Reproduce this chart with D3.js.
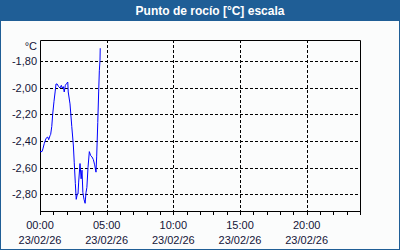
<!DOCTYPE html>
<html><head><meta charset="utf-8">
<script src="https://cdn.jsdelivr.net/npm/d3@7"></script>
<style>html,body{margin:0;padding:0;background:#fff;overflow:hidden}</style>
</head><body>
<svg id="c" width="400" height="250"></svg>
<script>
const title = "Punto de rocío [°C] escala";
const unitLabel = "°C";
const times = ["00:00","00:09","00:13","00:19","00:27","00:35","00:39","00:45","00:48","00:53","00:57","01:03","01:08","01:12","01:17","01:24","01:30","01:36","01:40","01:45","01:49","01:54","02:00","02:05","02:07","02:15","02:23","02:30","02:34","02:39","02:43","02:48","02:51","02:54","03:00","03:05","03:09","03:13","03:18","03:23","03:27","03:31","03:36","03:42","03:48","03:54","04:00","04:06","04:12","04:15","04:20","04:24","04:27","04:30","04:31"];
const values = [-2.48,-2.48,-2.46,-2.42,-2.38,-2.37,-2.39,-2.36,-2.35,-2.29,-2.20,-2.10,-2.03,-1.97,-1.97,-1.99,-2.00,-1.98,-2.00,-1.99,-2.03,-1.98,-1.965,-1.955,-2.03,-2.12,-2.29,-2.43,-2.56,-2.72,-2.84,-2.80,-2.80,-2.71,-2.57,-2.685,-2.62,-2.79,-2.84,-2.87,-2.79,-2.75,-2.60,-2.48,-2.51,-2.52,-2.54,-2.58,-2.635,-2.52,-2.26,-2.03,-1.87,-1.79,-1.70];
const yTicks = [-1.80,-2.00,-2.20,-2.40,-2.60,-2.80];
const yDomain = [-2.928,-1.638];
const xTickHours = [0,5,10,15,20];
const dateLabel = "23/02/26";

const svg = d3.select("#c");
const W=400,H=250;
const L=40,R=360,T=40,B=211;
const font="'Liberation Sans', Arial, sans-serif";
const blue="#1f5e96";

svg.append("rect").attr("x",0).attr("y",0).attr("width",W).attr("height",H).attr("fill","#fbfcfc");
svg.append("rect").attr("x",0.5).attr("y",0.5).attr("width",W-1).attr("height",H-1).attr("fill","none").attr("stroke",blue);
svg.append("rect").attr("x",0).attr("y",0).attr("width",W).attr("height",21).attr("fill",blue);
svg.append("text").attr("x",210).attr("y",15).attr("text-anchor","middle").attr("fill","#fff")
  .attr("font-family",font).attr("font-weight","bold").attr("font-size","12px").text(title);

const parse = s => { const [h,m]=s.split(":").map(Number); return h+m/60; };
const x = d3.scaleLinear().domain([0,24]).range([L,R]);
const y = d3.scaleLinear().domain(yDomain).range([B,T]);
const cr = v => Math.round(v)+0.5;

const g = svg.append("g");
// horizontal grid
g.selectAll(".hg").data(yTicks).enter().append("line")
  .attr("x1",L).attr("x2",R).attr("y1",d=>cr(y(d))).attr("y2",d=>cr(y(d)))
  .attr("stroke","#000").attr("stroke-dasharray","3,2");
// vertical grid
g.selectAll(".vg").data(xTickHours.filter(h=>h>0)).enter().append("line")
  .attr("y1",T).attr("y2",B).attr("x1",d=>cr(x(d))).attr("x2",d=>cr(x(d)))
  .attr("stroke","#000").attr("stroke-dasharray","3,2");

// frame
g.append("path").attr("d",`M${L+0.5},${B+0.5}V${T+0.5}H${R+0.5}V${B+0.5}H${L+0.5}`)
  .attr("fill","none").attr("stroke","#000");
// hourly ticks
g.selectAll(".xt").data(d3.range(0,25)).enter().append("line")
  .attr("x1",d=>cr(x(d))).attr("x2",d=>cr(x(d))).attr("y1",B).attr("y2",B+4)
  .attr("stroke","#000");

// y labels
const fmt = v => v.toFixed(2).replace(".",",");
g.selectAll(".yl").data(yTicks).enter().append("text")
  .attr("x",37).attr("y",d=>y(d)+4).attr("text-anchor","end")
  .attr("font-family",font).attr("font-size","11px").attr("fill","#141438").text(fmt);
g.append("text").attr("x",37).attr("y",50).attr("text-anchor","end")
  .attr("font-family",font).attr("font-size","11px").attr("fill","#141438").text(unitLabel);

// x labels
const xl = g.selectAll(".xl").data(xTickHours).enter().append("text")
  .attr("text-anchor","middle").attr("font-family",font).attr("font-size","11px").attr("fill","#141438");
xl.append("tspan").attr("x",d=>x(d)).attr("y",229).text(d=>String(d).padStart(2,"0")+":00");
xl.append("tspan").attr("x",d=>x(d)).attr("y",244).text(dateLabel);

// line
const data = times.map((t,i)=>({h:parse(t),v:values[i]}));
g.append("path").datum(data)
  .attr("d",d3.line().x(d=>x(d.h)).y(d=>y(d.v)))
  .attr("fill","none").attr("stroke","#0000ff").attr("stroke-width",1);
</script>
</body></html>
